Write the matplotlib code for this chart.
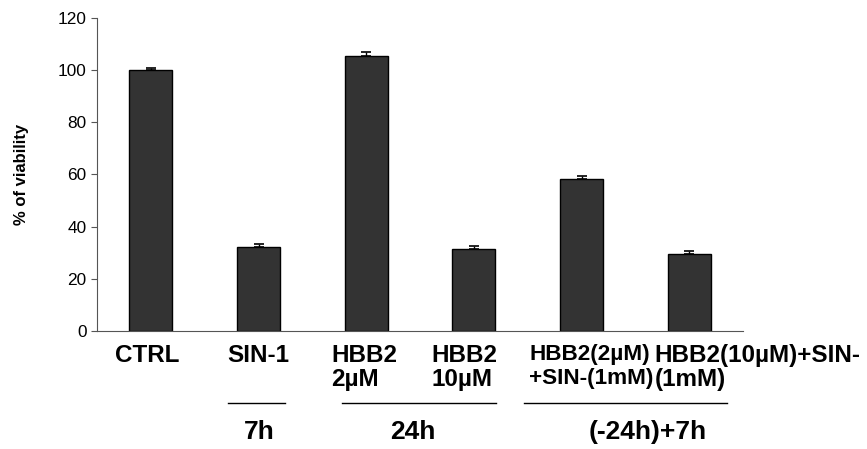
import numpy as np
import matplotlib.pyplot as plt
from matplotlib.transforms import blended_transform_factory

plt.rcParams['font.family'] = ['Liberation Sans', 'DejaVu Sans']

# data
labels = ['CTRL', 'SIN-1', 'HBB2\n2µM', 'HBB2\n10µM',
          'HBB2(2µM)\n+SIN-(1mM)', 'HBB2(10µM)+SIN-\n(1mM)']
viability = [100.0, 32.2, 105.6, 31.6, 58.1, 29.5]
err = [1.0, 1.0, 1.2, 1.1, 1.3, 1.2]
groups = ['7h', '24h', '(-24h)+7h']
group_span = [(0.72, 1.25), (1.78, 3.21), (3.47, 5.35)]
group_center = [1.01, 2.43, 4.61]

fig = plt.figure(figsize=(8.67, 4.49), dpi=100)
ax = fig.add_axes([0.1119, 0.2628, 0.7451, 0.6972])

x = np.arange(len(labels))
ax.bar(x, viability, width=0.4, color='#333333', edgecolor='black', linewidth=1.0,
       yerr=[np.zeros(len(err)), err], capsize=3.5,
       error_kw=dict(ecolor='black', elinewidth=1.0, capthick=1.2))

ax.set_xlim(-0.5, 5.5)
ax.set_ylim(0, 120)
ax.set_yticks(range(0, 121, 20))
ax.tick_params(axis='y', labelsize=12.4, length=4, color='#555555', direction='out')
ax.set_xticks([])
for s in ['top', 'right']:
    ax.spines[s].set_visible(False)
for s in ['left', 'bottom']:
    ax.spines[s].set_color('#555555')

fig.text(0.025, 0.612, '% of viability', rotation=90, ha='center', va='center',
         fontsize=12, fontweight='bold')

tr = blended_transform_factory(ax.transData, ax.transAxes)
offsets = [-0.03, 0.0, -0.02, -0.09, 0.09, 0.0]
sizes = [17.5, 17.5, 17.5, 17.5, 16.2, 17.5]
for i, lab in enumerate(labels):
    if i == 5:
        ax.text(i - 0.32, -0.04, lab, transform=tr, ha='left', va='top',
                fontsize=sizes[i], fontweight='bold', linespacing=1.1)
    else:
        ax.text(i + offsets[i], -0.04, lab, transform=tr, ha='center', va='top',
                multialignment='left', fontsize=sizes[i], fontweight='bold',
                linespacing=1.1 if i != 4 else 1.19)

for (a, b), c, g in zip(group_span, group_center, groups):
    ax.plot([a, b], [-0.23, -0.23], color='black', linewidth=1.0,
            transform=tr, clip_on=False)
    ax.text(c, -0.323, g, transform=tr, ha='center', va='center',
            fontsize=19, fontweight='bold')

fig.savefig('out.png', dpi=100)
